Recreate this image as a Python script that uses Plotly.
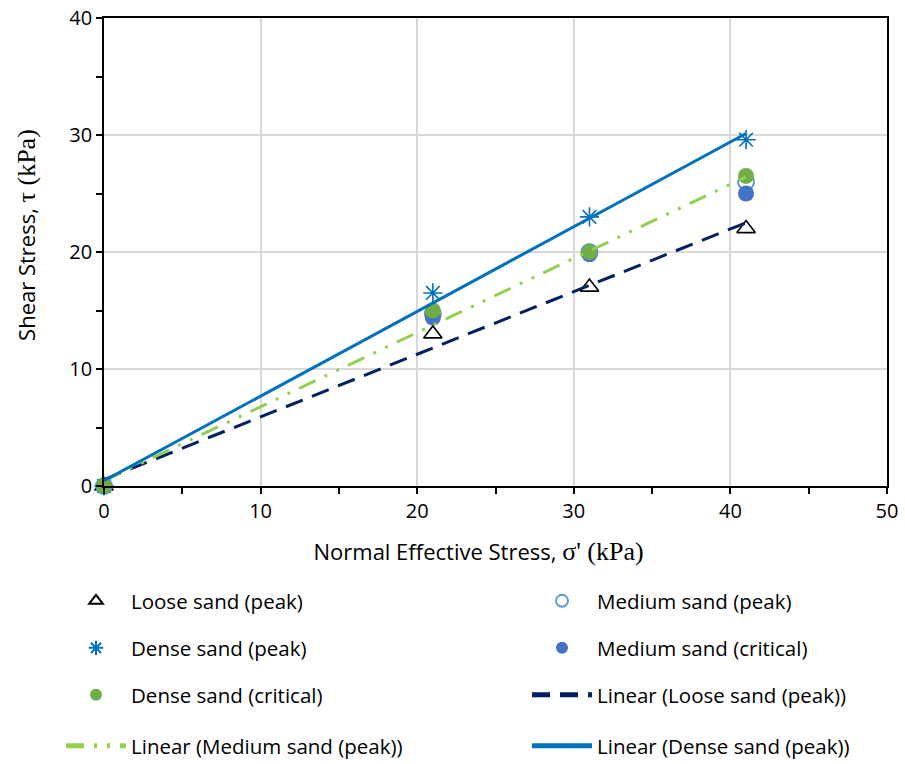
import numpy as np
import plotly.graph_objects as go

# ---- data ----
sigma = [0, 21, 31, 41]
loose_peak = [0, 13.0, 17.0, 22.0]
medium_peak = [0, 14.7, 20.0, 26.0]
dense_peak = [0, 16.5, 23.0, 29.6]
medium_crit = [0, 14.4, 19.8, 25.0]
dense_crit = [0, 15.0, 20.0, 26.5]

x_ticks = [0, 10, 20, 30, 40, 50]
y_ticks = [0, 10, 20, 30, 40]

FONT = "Open Sans"
fs_leg = 20.5
fs_tick = 20
fs_title = 22

def trend(x, y):
    k, b = np.polyfit(x, y, 1)
    xs = np.array([min(x), max(x)], dtype=float)
    return xs, k * xs + b

fig = go.Figure()

marker_traces = [
    ("Loose sand (peak)", loose_peak, dict(symbol="triangle-up-open", size=16, color="black", line=dict(width=1.6, color="black")), "legend"),
    ("Medium sand (peak)", medium_peak, dict(symbol="circle-open", size=16, color="#5B9BD5", line=dict(width=2, color="#5B9BD5")), "legend2"),
    ("Dense sand (peak)", dense_peak, dict(symbol="asterisk-open", size=16, color="#0070C0", line=dict(width=1.6, color="#0070C0")), "legend3"),
    ("Medium sand (critical)", medium_crit, dict(symbol="circle", size=16, color="#4472C4"), "legend4"),
    ("Dense sand (critical)", dense_crit, dict(symbol="circle", size=16, color="#70AD47"), "legend5"),
]
for name, ys, mk, lg in marker_traces:
    fig.add_trace(go.Scatter(x=sigma, y=ys, mode="markers", name=name, marker=mk,
                             cliponaxis=False, legend=lg))

line_traces = [
    ("Linear (Loose sand (peak))", loose_peak, dict(color="#002060", width=3, dash="18px,10px"), "legend6"),
    ("Linear (Medium sand (peak))", medium_peak, dict(color="#92D050", width=3, dash="18px,10px,3px,10px,3px,10px"), "legend7"),
    ("Linear (Dense sand (peak))", dense_peak, dict(color="#0070C0", width=3), "legend8"),
]
for name, ys, ln, lg in line_traces:
    xs, yv = trend(sigma, ys)
    fig.add_trace(go.Scatter(x=xs, y=yv, mode="lines", name=name, line=ln, legend=lg))

# legend positions (pixel -> paper)
L, R, T, B = 104, 887, 18, 486
def px2x(p):
    return (p - L) / (R - L)
def py2y(p):
    return (B - p) / (B - T)

col_x = [61, 527]
row_y = [601, 648, 695, 746]
pos = [(0, 0), (1, 0), (0, 1), (1, 1), (0, 2), (1, 2), (0, 3), (1, 3)]
legend_layout = {}
for i, (c, r) in enumerate(pos):
    key = "legend" if i == 0 else f"legend{i+1}"
    legend_layout[key] = dict(
        x=px2x(col_x[c]), y=py2y(row_y[r]), xanchor="left", yanchor="middle",
        bgcolor="rgba(0,0,0,0)", font=dict(family=FONT, size=fs_leg, color="black"),
        itemwidth=60, itemsizing="constant",
    )

axis_common = dict(
    showline=True, linecolor="black", linewidth=1.6, mirror=True,
    showgrid=True, gridcolor="#d9d9d9", gridwidth=1.5,
    ticks="outside", ticklen=6, tickwidth=1.5, tickcolor="black",
    minor=dict(dtick=5, ticks="outside", ticklen=6, tickwidth=1.5, tickcolor="black", showgrid=False),
    tickfont=dict(family=FONT, size=fs_tick, color="black"),
    zeroline=False, automargin=False,
)

serif = "font-family:'Liberation Serif';font-size:26px"
pad = "<span style=\"color:rgba(0,0,0,0)\">{}</span>"
x_title = f"Normal Effective Stress, <span style=\"{serif}\">σ' (kPa)</span>" + pad.format("mn")
y_title = pad.format("mn") + f"Shear Stress, <span style=\"{serif}\">τ (kPa)</span>"

fig.update_layout(
    width=905, height=764,
    margin=dict(l=L, r=905 - R, t=T, b=764 - B, autoexpand=False),
    plot_bgcolor="white", paper_bgcolor="white",
    xaxis=dict(range=[0, 50], tickvals=x_ticks, dtick=10,
               title=dict(text=x_title, font=dict(family=FONT, size=fs_title, color="black"), standoff=22),
               **axis_common),
    yaxis=dict(range=[0, 40], tickvals=y_ticks, dtick=10,
               title=dict(text=y_title, font=dict(family=FONT, size=fs_title, color="black"), standoff=28),
               **axis_common),
    showlegend=True,
    **legend_layout,
)

fig.write_html("out.html")
